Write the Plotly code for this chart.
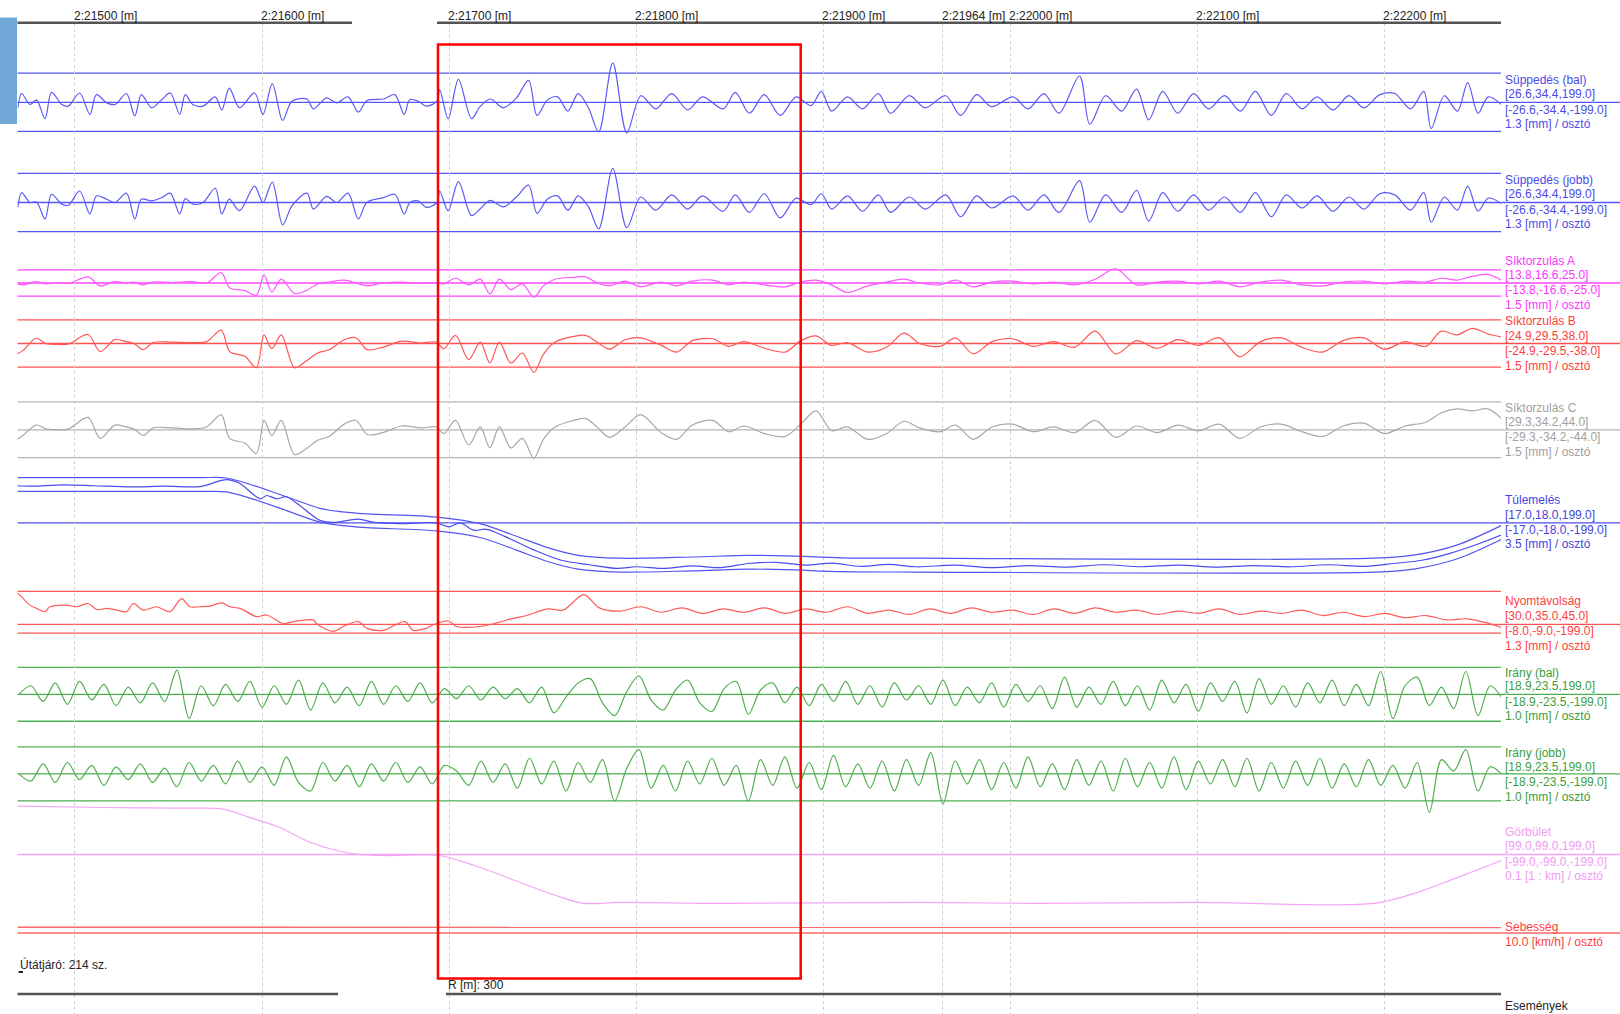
import plotly.graph_objects as go

# ---------------- data ----------------
TICK_M = [21500, 21600, 21700, 21800, 21900, 21964, 22000, 22100, 22200]
TICK_TEXT = ["2:21500 [m]", "2:21600 [m]", "2:21700 [m]", "2:21800 [m]", "2:21900 [m]",
             "2:21964 [m]", "2:22000 [m]", "2:22100 [m]", "2:22200 [m]"]

SUP_M = [21469.5, 21471.5, 21476, 21479.5, 21484, 21487.5, 21493, 21496.5, 21502.5, 21508,
         21511.5, 21517, 21521.5, 21527.5, 21532, 21535.5, 21541, 21546.5, 21551, 21556,
         21559, 21563, 21568.5, 21575, 21578.5, 21582.5, 21588, 21596, 21600.5, 21605.5,
         21611, 21616, 21624, 21627.5, 21634.5, 21640, 21646, 21651.5, 21656, 21665,
         21671, 21676, 21679, 21683.5, 21688, 21693.5, 21695, 21699.5, 21705, 21712,
         21716.5, 21722, 21729, 21736, 21742.5, 21747, 21752.5, 21758, 21763.5, 21769,
         21774.5, 21780, 21787.5, 21795, 21802.5, 21810.5, 21819, 21827.5, 21835.5, 21846.5,
         21853, 21860.5, 21868.5, 21877, 21885.5, 21893.5, 21899, 21904.5, 21913, 21921,
         21929.5, 21936, 21946, 21954.5, 21965.5, 21973.5, 21982, 21990, 22001.5, 22009.5,
         22018, 22026, 22037, 22042.5, 22051, 22059.5, 22067.5, 22074, 22081.5, 22089.5,
         22098, 22106, 22114.5, 22123, 22131, 22139.5, 22147.5, 22156, 22164, 22172.5,
         22181, 22189, 22197.5, 22205.5, 22214, 22221, 22225, 22232, 22239, 22244.5,
         22250, 22255.5, 22262.5]
SUP_BAL_MM = [-5, 8, -2, 2, -15, 9, -2, -3.5, 8.5, -11,
              7, -0.5, -2, 8, -12.5, 7, -5, 2.5, 8.5, -11,
              7, -2, -3.5, 5, -7, 13, -5, 8.5, -11, 17,
              -16.5, 1, 3, -6, 4, -0.5, 5, -9, 1.5, 3,
              7, -11, 2.5, 1, -3.5, 1, 11.5, -15, 21, -15,
              -4, 3, -5, 4, 20, -12, 2, 5, -8, 8,
              -5, -27, 36, -28, 6, -6, 8, -7, 5, -6,
              9, -10, 7, -12, 5, -3, 10, -8, 5, -6,
              8, -10, 6, -5, 6, -12, 7, -4, 5, -6,
              8, -10, 24, -20, 6, -8, 12, -16, 10, -10,
              8, -6, 6, -8, 10, -12, 8, -6, 5, -7,
              6, -5, 7, 8, -6, 10, -24, 6, -8, 18,
              -10, 5, -2]
SUP_JOBB_MM = [-4.5, 9, 0, 0.5, -15, 7.5, -1.5, -2.5, 10.5, -10.5,
               6, 3, 0, 8.5, -15, 3, 1.5, 4.5, 8.5, -10.5,
               3.5, -1.5, 0, 13, -10.5, 3, -7.5, 15, 0, 18.5,
               -20.5, -3, 8.5, -6, 5.5, 0, 8.5, -15, 0, 4.5,
               7.5, -10.5, 0, 1.5, -4.5, 0, 10.5, -7.5, 19, -12,
               -6, 2, -4, 5, 16, -10, 3, 6, -7, 6,
               -4, -24, 31, -23, 5, -7, 7, -6, 6, -8,
               7, -9, 8, -14, 4, -2, 8, -6, 6, -8,
               7, -9, 5, -6, 7, -13, 6, -5, 6, -7,
               7, -9, 20, -18, 7, -9, 11, -17, 9, -8,
               7, -7, 5, -9, 9, -13, 7, -5, 6, -8,
               5, -6, 8, 7, -7, 9, -18, 5, -7, 15,
               -8, 4, -1]

SIK_M = [21469.1, 21472.2, 21479.3, 21484.5, 21490.6, 21496.7, 21507, 21513.5, 21521.3, 21527.4,
         21531.5, 21536.6, 21541.7, 21552, 21562.2, 21570.4, 21578.2, 21582.7, 21590.8, 21597,
         21601.1, 21605.2, 21610.3, 21617.4, 21623.6, 21629.7, 21635.9, 21644, 21650.2, 21656.3,
         21664.5, 21674.7, 21685, 21693.1, 21697.2, 21703.4, 21710.5, 21716.7, 21721.8, 21726.9,
         21733, 21739.2, 21745.3, 21750.4, 21756.6, 21766.8, 21772.9, 21779.1,
         21785.8, 21794.1, 21802.4, 21813.4, 21821.7, 21830, 21841, 21849.3, 21857.6, 21868.6,
         21879.7, 21888, 21896.2, 21904.5, 21912.8, 21923.9, 21933.8, 21943.2, 21951.5, 21962.5,
         21970.8, 21980.2, 21990.2, 22001.2, 22012.2, 22023.3, 22034.3, 22045.4, 22056.4, 22067.5,
         22078.5, 22089.6, 22100.6, 22111.7, 22122.7, 22133.7, 22144.8, 22155.8, 22166.9, 22177.9,
         22189, 22200, 22211.1, 22222.1, 22230.4, 22238.7, 22247, 22255.3, 22262.5]
SIK_A_MM = [-1, -2, 1.5, -1, 0.5, -0.5, 6.5, -3, 1.5, 0,
            1, -2, 1, 0.5, 1.5, 0, 11, -5, -8, -13,
            8.5, -9.5, 4, -11, -8, -1, 1, 3, 0, -3,
            0, 1, -0.5, 0, -1, 5, -2, 4, -11.5, 4,
            -7, -1, -15, -3, 4, 6, 6.5, 0,
            -3, 2, -4, 1, -3, 2, 3, -2, 1, -2,
            -4, 1, 3, -2, -10, -3, 1, 4, 0, -2,
            3, -4, 1, 2, -1, 1, -2, 4, 15, -2,
            1, 2, -1, 2, -4, 1, 3, -2, -3, 1,
            2, -1, 2, 1, 5, 3, 7, 9, 3]
SIK_B_MM = [-11, -7.5, 5.5, 0, -1, -0.5, 9.5, -8.5, 4, 2,
            0, -6.5, 1, 1.5, 1, 2, 14, -8.5, -13.5, -25.5,
            9, -5.5, 9, -25.5, -18.5, -10, -6.5, 4, 6, -6.5,
            -4, 2.5, 0.5, 1.5, -5.5, 8.5, -17, 1.5, -20.5, 1.5,
            -20.5, -10, -30.5, -11.5, 1.5, 7.5, 8.5, 1.5,
            -6, 4, 6, -2, -9, 3, 5, -3, 2, -5,
            -9, 3, 8, -2, 1, -9, -4, 11, 0, -3,
            6, -11, 2, 5, -3, 2, -4, 13, -11, 3,
            -5, 4, -2, 6, -14, 2, 6, -4, -9, 3,
            6, -6, 2, -3, 13, 9, 16, 10, 7]
SIK_C_MM = [-10, -6, 5, 1, 0, 1, 13, -9, 5, 3,
            1, -6, 2, 2, 1, 3, 16, -9, -14, -25,
            10, -6, 10, -26, -20, -11, -7, 6, 10, -5,
            -3, 4, 2, 3, -4, 10, -16, 3, -19, 3,
            -19, -9, -30, -10, 3, 10, 12, 3,
            -8, 3, 16, -3, -10, 5, 10, -2, 4, -4,
            -7, 6, 20, -1, 3, -10, -4, 9, 2, -2,
            5, -10, 3, 6, -2, 3, -3, 10, -8, 4,
            -3, 5, -1, 6, -9, 3, 6, -2, -7, 4,
            7, -4, 4, 8, 18, 22, 20, 22, 12]

TUL_NOM_M = [21469.3, 21566.8, 21581, 21595.3, 21613.1, 21631, 21641.7, 21655.9, 21693.3, 21716.5,
             21736, 21752.7, 21769, 21791, 21830, 21860, 21880, 21910, 21950, 22194.5,
             22216.5, 22238.6, 22262.4]
TUL_NOM_MM = [94, 94, 93, 75, 47, 18.5, 10.5, 5, -3, -19,
              -50, -78, -97, -104, -101, -97, -98, -103, -104, -104,
              -96, -72, -24]
TUL_TOL_MM = 17.0
TUL_M = [21468.8, 21477, 21494, 21510, 21530, 21548, 21567, 21581, 21588, 21599,
         21602.5, 21608, 21613, 21620, 21631, 21638, 21651.5, 21660, 21674, 21693,
         21700, 21706, 21713, 21720, 21730, 21745, 21760, 21775, 21790, 21800,
         21815, 21830, 21845, 21860, 21875, 21890, 21905, 21920, 21935, 21950,
         21970, 21990, 22010, 22030, 22050, 22070, 22090, 22110, 22130, 22150,
         22170, 22190, 22205, 22220, 22235, 22250, 22262.4]
TUL_MM = [91, 90, 93, 91, 88, 90, 89, 106, 97, 59,
          67, 59, 64, 43, 6, 1, 9, 1, -2, 0,
          -10, 0, -18, -16, -34, -66, -92, -103, -112, -108,
          -112, -106, -110, -100, -97, -104, -99, -107, -102, -108,
          -104, -110, -105, -109, -103, -108, -104, -109, -105, -108,
          -103, -107, -100, -92, -75, -52, -30]

NYOM_M = [21468.8, 21471.5, 21475.9, 21479.5, 21484, 21486.6, 21495.5, 21500.9, 21507.1, 21511.6,
          21516.9, 21522.3, 21527.6, 21531.2, 21536.5, 21543.6, 21550.8, 21557, 21561.5, 21566.8,
          21572.2, 21578.4, 21582.9, 21588.2, 21597.1, 21602.5, 21611.4, 21616.7, 21627.4, 21629.2,
          21638.1, 21643.4, 21651.5, 21655.9, 21664.8, 21676.4, 21680.8, 21688, 21691.5, 21699.6,
          21704, 21716.5, 21725, 21733.3, 21741.6, 21752.7, 21761, 21772, 21780.3, 21791.3,
          21802.4, 21813.4, 21824.5, 21835.5, 21846.6, 21857.6, 21868.7, 21879.7, 21890.8, 21901.8,
          21912.9, 21923.9, 21935, 21946, 21957, 21968.1, 21979.1, 21990.2, 22001.2, 22012.3,
          22023.3, 22034.4, 22045.4, 22056.5, 22067.5, 22078.6, 22089.6, 22100.7, 22111.7, 22122.8,
          22133.8, 22144.9, 22155.9, 22167, 22178, 22189.1, 22200.1, 22211.2, 22222.2, 22233.3,
          22244.3, 22255.4, 22262.5]
NYOM_MM = [29.4, 25, 17.5, 14.5, 11.5, 16, 17.5, 16, 19, 13.5,
           14.5, 13, 11.5, 19, 13, 16, 11.5, 23.5, 16, 16,
           16.5, 19.5, 16, 14.5, 7, 8.5, 0.5, 2.5, 4, 0.5,
           -6.5, -2, 2.5, -3.5, -5.5, 2.5, -5.5, -3.5, -0.5, 3,
           -2, -2, 1, 5, 8, 14, 13, 27, 15, 12,
           16, 11, 15, 10, 14, 11, 15, 10, 14, 11,
           16, 10, 13, 9, 14, 10, 15, 11, 13, 9,
           14, 10, 15, 11, 13, 9, 12, 10, 14, 9,
           12, 10, 13, 8, 11, 7, 10, 6, 8, 4,
           5, 1, -3]

IR_M = [21470, 21476.5, 21483, 21489.5, 21496, 21502.5, 21509, 21515.5, 21522, 21528.5,
        21535, 21541.5, 21548, 21554.5, 21561, 21567.5, 21574, 21580.5, 21587, 21593.5,
        21600, 21606.5, 21613, 21619.5, 21626, 21632.5, 21639, 21645.5, 21652, 21658.5,
        21665, 21671.5, 21678, 21684.5, 21691, 21697.5, 21704, 21710.5, 21717, 21723.5,
        21730, 21736.5, 21743, 21749.5, 21756, 21762.5, 21769, 21775.5, 21782, 21788.5,
        21795, 21801.5, 21808, 21814.5, 21821, 21827.5, 21834, 21840.5, 21847, 21853.5,
        21860, 21866.5, 21873, 21879.5, 21886, 21892.5, 21899, 21905.5, 21912, 21918.5,
        21925, 21931.5, 21938, 21944.5, 21951, 21957.5, 21964, 21970.5, 21977, 21983.5,
        21990, 21996.5, 22003, 22009.5, 22016, 22022.5, 22029, 22035.5, 22042, 22048.5,
        22055, 22061.5, 22068, 22074.5, 22081, 22087.5, 22094, 22100.5, 22107, 22113.5,
        22120, 22126.5, 22133, 22139.5, 22146, 22152.5, 22159, 22165.5, 22172, 22178.5,
        22185, 22191.5, 22198, 22204.5, 22211, 22217.5, 22224, 22230.5, 22237, 22243.5,
        22250, 22256.5, 22262.5]
IR_BAL_MM = [0, 6, -5, 8, -7, 9, -4, 7, -8, 5,
             -6, 8, -5, 17, -17, 6, -8, 7, -5, 9,
             -9, 6, -7, 10, -11, 8, -6, 5, -8, 9,
             -7, 6, -5, 8, -6, 4, -3, 6, -4, 5,
             -3, 4, -6, 5, -13, -2, 8, 11, -6, -15,
             2, 13, -4, -11, 3, 10, -6, -12, 4, 9,
             -14, 3, 8, -6, 5, -8, 7, -5, 9, -7,
             6, -9, 8, -4, 6, -7, 10, -8, 5, -6,
             8, -9, 7, -5, 6, -10, 12, -9, 5, -7,
             9, -8, 6, -11, 10, -6, 7, -12, 8, -5,
             9, -13, 11, -7, 6, -9, 8, -6, 10, -8,
             7, -8, 16, -17, 6, 12, -8, 5, -10, 16,
             -15, 6, -2]
IR_JOBB_MM = [0, -5, 7, -6, 8, -4, 6, -8, 5, -4,
              7, -6, 4, -9, 8, -5, 6, -7, 9, -6,
              5, -8, 12, -6, -12, 8, -5, 6, -9, 7,
              -5, 8, -6, 5, -7, 6, 2, -8, 9, -6,
              7, -10, 11, -7, 9, -12, 8, -6, 10, -19,
              4, 17, -10, 6, -12, 9, -7, 11, -8, 6,
              -19, 10, -8, 12, -10, 8, -11, 13, -9, 7,
              -10, 9, -12, 10, -8, 15, -21, 9, -7, 10,
              -11, 8, -10, 12, -9, 7, -11, 10, -8, 9,
              -12, 11, -9, 8, -10, 12, -11, 9, -7, 10,
              -9, 11, -12, 8, -10, 9, -8, 11, -10, 7,
              -9, 10, -8, 6, -10, 8, -27, 10, 2, 17,
              -12, 5, 0]

GORB_M = [21469.3, 21515, 21560, 21578.6, 21592.4, 21609, 21625.6, 21647.7, 21664.2, 21694.6,
          21714, 21736, 21758.2, 21772, 21791.3, 21846.5, 21950, 22012.2, 22100, 22194.4,
          22216.5, 22238.6, 22262.4]
GORB_VAL = [3.4, 3.3, 3.25, 3.2, 2.64, 1.93, 0.86, 0.07, -0.07, -0.07,
            -0.79, -1.86, -2.93, -3.43, -3.36, -3.43, -3.36, -3.43, -3.36, -3.43,
            -2.71, -1.64, -0.43]

SEB_M = [21469.3, 21532, 21533, 22262.4]
SEB_KMH = [40, 40, 39, 39]

# ---------------- layout helpers ----------------
W, H = 1620, 1014
PLOT_TOP, PLOT_BOT = 23.0, 1014.0
X_L_PX, X_R_PX = 17.5, 1501.0
M_LEFT, M_RIGHT = 21469.3, 22262.3
PX_PER_DIV = 1.425


def ppx(px):
    return px / W


def ppy(py):
    return (PLOT_BOT - py) / (PLOT_BOT - PLOT_TOP)


FONT = "Liberation Sans, Arial, sans-serif"

PANELS = [
    dict(ax=1, c=102.3, div=1.3, col="#5555f5", tcol="#4b4be8", lim=[26.6, -26.6],
         labels=[("Süppedés (bal)", 79.6), ("[26.6,34.4,199.0]", 94.0), ("[-26.6,-34.4,-199.0]", 109.5), ("1.3 [mm] / osztó", 124.0)]),
    dict(ax=2, c=202.5, div=1.3, col="#5555f5", tcol="#4b4be8", lim=[26.6, -26.6],
         labels=[("Süppedés (jobb)", 179.8), ("[26.6,34.4,199.0]", 194.2), ("[-26.6,-34.4,-199.0]", 209.7), ("1.3 [mm] / osztó", 224.2)]),
    dict(ax=3, c=283.0, div=1.5, col="#ff44ff", tcol="#ff33ff", lim=[13.8, -13.8],
         labels=[("Síktorzulás A", 261.4), ("[13.8,16.6,25.0]", 274.8), ("[-13.8,-16.6,-25.0]", 290.3), ("1.5 [mm] / osztó", 304.8)]),
    dict(ax=4, c=343.5, div=1.5, col="#ff5050", tcol="#ff3c3c", lim=[24.9, -24.9],
         labels=[("Síktorzulás B", 321.3), ("[24.9,29.5,38.0]", 335.8), ("[-24.9,-29.5,-38.0]", 351.3), ("1.5 [mm] / osztó", 365.8)]),
    dict(ax=5, c=429.8, div=1.5, col="#b4b4b4", tcol="#a0a0a0", lim=[29.3, -29.3],
         labels=[("Síktorzulás C", 408.0), ("[29.3,34.2,44.0]", 421.5), ("[-29.3,-34.2,-44.0]", 437.0), ("1.5 [mm] / osztó", 451.5)]),
    dict(ax=6, c=522.8, div=3.5, col="#5050f0", tcol="#4444e0", lim=[],
         labels=[("Túlemelés", 500.0), ("[17.0,18.0,199.0]", 514.5), ("[-17.0,-18.0,-199.0]", 530.0), ("3.5 [mm] / osztó", 544.5)]),
    dict(ax=7, c=624.3, div=1.3, col="#ff5555", tcol="#ff4040", lim=[30.0, -8.0],
         labels=[("Nyomtávolság", 601.3), ("[30.0,35.0,45.0]", 615.8), ("[-8.0,-9.0,-199.0]", 631.3), ("1.3 [mm] / osztó", 645.8)]),
    dict(ax=8, c=694.3, div=1.0, col="#4caf50", tcol="#3c9e3c", lim=[18.9, -18.9],
         labels=[("Irány (bal)", 672.6), ("[18.9,23.5,199.0]", 686.0), ("[-18.9,-23.5,-199.0]", 701.5), ("1.0 [mm] / osztó", 716.0)]),
    dict(ax=9, c=773.9, div=1.0, col="#4caf50", tcol="#3c9e3c", lim=[18.9, -18.9],
         labels=[("Irány (jobb)", 753.2), ("[18.9,23.5,199.0]", 766.6), ("[-18.9,-23.5,-199.0]", 782.1), ("1.0 [mm] / osztó", 796.6)]),
    dict(ax=10, c=854.5, div=0.1, col="#f4a4f4", tcol="#f29af2", lim=[],
         labels=[("Görbület", 831.7), ("[99.0,99.0,199.0]", 846.2), ("[-99.0,-99.0,-199.0]", 861.7), ("0.1 [1 : km] / osztó", 876.2)]),
    dict(ax=11, c=933.0, div=10.0, col="#ff6a6a", tcol="#ff4040", lim=[],
         labels=[("Sebesség", 926.8), ("10.0 [km/h] / osztó", 942.3)]),
]

fig = go.Figure()
layout_axes = {}
shapes = []
annotations = []


def yname(ax):
    return "y" if ax == 1 else f"y{ax}"


for p in PANELS:
    ppu = PX_PER_DIV / p["div"]
    top = (p["c"] - PLOT_TOP) / ppu
    bot = -(PLOT_BOT - p["c"]) / ppu
    key = "yaxis" if p["ax"] == 1 else f"yaxis{p['ax']}"
    ax_def = dict(range=[bot, top], visible=False, fixedrange=True)
    if p["ax"] != 1:
        ax_def["overlaying"] = "y"
    layout_axes[key] = ax_def
    yr = yname(p["ax"])
    shapes.append(dict(type="line", xref="paper", yref=yr, x0=ppx(X_L_PX), x1=1.0, y0=0, y1=0,
                       line=dict(color=p["col"], width=1.3), layer="below"))
    for v in p["lim"]:
        shapes.append(dict(type="line", xref="paper", yref=yr, x0=ppx(X_L_PX), x1=ppx(X_R_PX), y0=v, y1=v,
                           line=dict(color=p["col"], width=1.3), layer="below"))
    for txt, py in p["labels"]:
        annotations.append(dict(text=txt, xref="paper", yref="paper", x=ppx(1503), y=ppy(py),
                                xanchor="left", yanchor="middle", showarrow=False,
                                font=dict(family=FONT, size=12, color=p["tcol"])))


def add_line(x, y, ax, color, width=1.2, smooth=True):
    fig.add_trace(go.Scatter(x=x, y=y, yaxis=yname(ax), mode="lines", hoverinfo="skip",
                             line=dict(color=color, width=width,
                                       shape="spline" if smooth else "linear", smoothing=0.9)))


add_line(SUP_M, SUP_BAL_MM, 1, "#5a5af8")
add_line(SUP_M, SUP_JOBB_MM, 2, "#5a5af8")
add_line(SIK_M, SIK_A_MM, 3, "#ff55ff")
add_line(SIK_M, SIK_B_MM, 4, "#ff5555")
add_line(SIK_M, SIK_C_MM, 5, "#a8a8a8")
add_line(TUL_NOM_M, [v + TUL_TOL_MM for v in TUL_NOM_MM], 6, "#5555f2")
add_line(TUL_NOM_M, [v - TUL_TOL_MM for v in TUL_NOM_MM], 6, "#5555f2")
add_line(TUL_M, TUL_MM, 6, "#4a4af0")
add_line(NYOM_M, NYOM_MM, 7, "#ff5a5a")
add_line(IR_M, IR_BAL_MM, 8, "#4fae4f")
add_line(IR_M, IR_JOBB_MM, 9, "#4fae4f")
add_line(GORB_M, GORB_VAL, 10, "#f4a4f4")
add_line(SEB_M, SEB_KMH, 11, "#ff6a6a", width=1.4, smooth=False)

for m, t in zip(TICK_M, TICK_TEXT):
    annotations.append(dict(text=t, xref="x", yref="paper", x=m, y=ppy(15.5), xanchor="left",
                            yanchor="middle", xshift=-3, showarrow=False,
                            font=dict(family=FONT, size=12, color="#222222")))
for x0, x1 in [(17.5, 352), (437, 1501)]:
    shapes.append(dict(type="line", xref="paper", yref="paper", x0=ppx(x0), x1=ppx(x1), y0=ppy(22.8), y1=ppy(22.8),
                       line=dict(color="#555555", width=2.5)))
for x0, x1 in [(17.5, 338), (446, 1501)]:
    shapes.append(dict(type="line", xref="paper", yref="paper", x0=ppx(x0), x1=ppx(x1), y0=ppy(994), y1=ppy(994),
                       line=dict(color="#555555", width=2.5)))

shapes.append(dict(type="rect", xref="paper", yref="paper", x0=0, x1=ppx(17), y0=ppy(124), y1=ppy(17.5),
                   fillcolor="#6fa8d6", line=dict(width=0)))
shapes.append(dict(type="rect", xref="paper", yref="paper", x0=ppx(438), x1=ppx(800.7), y0=ppy(978.4), y1=ppy(44.4),
                   line=dict(color="#ff0000", width=2.5), fillcolor="rgba(0,0,0,0)", layer="above"))
shapes.append(dict(type="line", xref="paper", yref="paper", x0=ppx(18.6), x1=ppx(23), y0=ppy(972), y1=ppy(972),
                   line=dict(color="#222222", width=2)))

annotations.append(dict(text="Útátjáró: 214 sz.", xref="paper", yref="paper", x=ppx(18), y=ppy(964),
                        xanchor="left", yanchor="middle", showarrow=False,
                        font=dict(family=FONT, size=12, color="#222222")))
annotations.append(dict(text="R [m]: 300", xref="paper", yref="paper", x=ppx(446), y=ppy(984.6),
                        xanchor="left", yanchor="middle", showarrow=False,
                        font=dict(family=FONT, size=12, color="#222222")))
annotations.append(dict(text="Események", xref="paper", yref="paper", x=ppx(1503), y=ppy(1006.3),
                        xanchor="left", yanchor="middle", showarrow=False,
                        font=dict(family=FONT, size=12, color="#222222")))

fig.update_layout(
    width=W, height=H,
    margin=dict(l=0, r=0, t=int(PLOT_TOP), b=0, pad=0),
    paper_bgcolor="white", plot_bgcolor="white",
    showlegend=False,
    xaxis=dict(domain=[ppx(X_L_PX), ppx(X_R_PX)], range=[M_LEFT, M_RIGHT], tickvals=TICK_M,
               showticklabels=False, ticks="", showgrid=True, gridcolor="#cfcfcf", griddash="dot",
               gridwidth=1, zeroline=False, showline=False, fixedrange=True),
    shapes=shapes,
    annotations=annotations,
    **layout_axes,
)

fig.write_html("out.html", config={"displayModeBar": False},
               post_script="document.body.style.margin='0';document.body.style.overflow='hidden';")
